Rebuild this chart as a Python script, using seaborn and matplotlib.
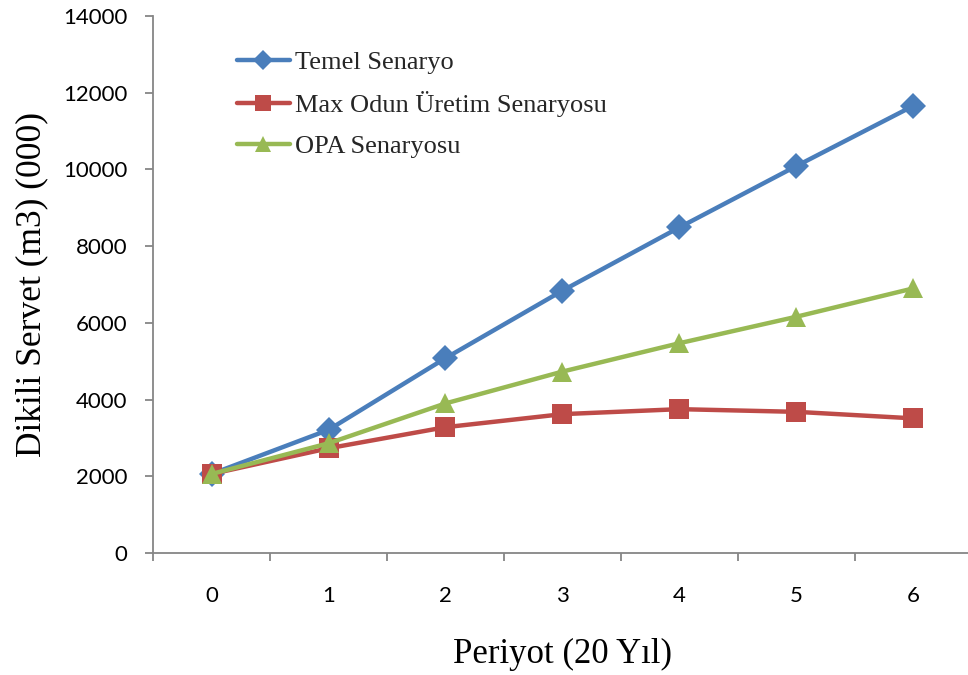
import matplotlib
matplotlib.use("Agg")
import matplotlib.pyplot as plt
import seaborn as sns
import pandas as pd
from matplotlib.ticker import MultipleLocator, FixedLocator

periods = [0, 1, 2, 3, 4, 5, 6]
temel = [2060, 3210, 5080, 6840, 8490, 10090, 11660]
max_odun = [2060, 2730, 3280, 3620, 3750, 3680, 3510]
opa = [2060, 2860, 3900, 4730, 5470, 6160, 6900]
series_names = ["Temel Senaryo", "Max Odun Üretim Senaryosu", "OPA Senaryosu"]

sns.set_theme(style="white")
fig = plt.figure(figsize=(9.68, 6.75), dpi=100)
ax = fig.add_axes([153/968, (675-553)/675, (972-153)/968, (553-16)/675])

styles = [
    (temel, "#4A7EBB", "D", 13),
    (max_odun, "#BE4B48", "s", 14),
    (opa, "#98B954", "^", 14.5),
]
for name, (vals, col, mk, ms) in zip(series_names, styles):
    sns.lineplot(x=periods, y=vals, ax=ax, color=col, marker=mk, markersize=ms,
                 linewidth=3.2, markeredgewidth=0, label=name)

ax.set_xlim(-0.5, 6.5)
ax.set_ylim(0, 14000)
ax.yaxis.set_major_locator(MultipleLocator(2000))
ax.xaxis.set_major_locator(FixedLocator(periods))
ax.xaxis.set_minor_locator(FixedLocator([p - 0.5 for p in periods] + [6.5]))
ax.set_xticklabels([str(p) for p in periods])

for s in ["top", "right"]:
    ax.spines[s].set_visible(False)
for s in ["left", "bottom"]:
    ax.spines[s].set_color("#868686")
    ax.spines[s].set_linewidth(1.3)

tickfont = "Lato"
ax.tick_params(axis="y", which="major", left=True, length=5.5, width=1.3, color="#868686",
               pad=13, labelsize=16, labelcolor="black")
ax.tick_params(axis="x", which="major", bottom=False, length=0, pad=24, labelsize=16,
               labelcolor="black")
ax.tick_params(axis="x", which="minor", bottom=True, length=5.5, width=1.3, color="#868686")
for lab in ax.get_xticklabels() + ax.get_yticklabels():
    lab.set_family(tickfont)

ax.set_xlabel("Periyot (20 Yıl)", family="Liberation Serif", fontsize=25, color="black")
ax.set_ylabel("Dikili Servet (m3) (000)", family="Liberation Serif", fontsize=25.5, color="black")
ax.xaxis.set_label_coords(0.5, (553 - 638) / 537)
ax.yaxis.set_label_coords((48 - 153) / 819, 0.5)
ax.grid(False)

leg = ax.legend(loc="upper left", bbox_to_anchor=(0.1026, 0.936), frameon=False,
                prop={"family": "Liberation Serif", "size": 19}, handlelength=2.0,
                handletextpad=0.2, labelspacing=0.66, borderaxespad=0, borderpad=0,
                markerscale=0.8)

fig.savefig("out.png", dpi=100)
